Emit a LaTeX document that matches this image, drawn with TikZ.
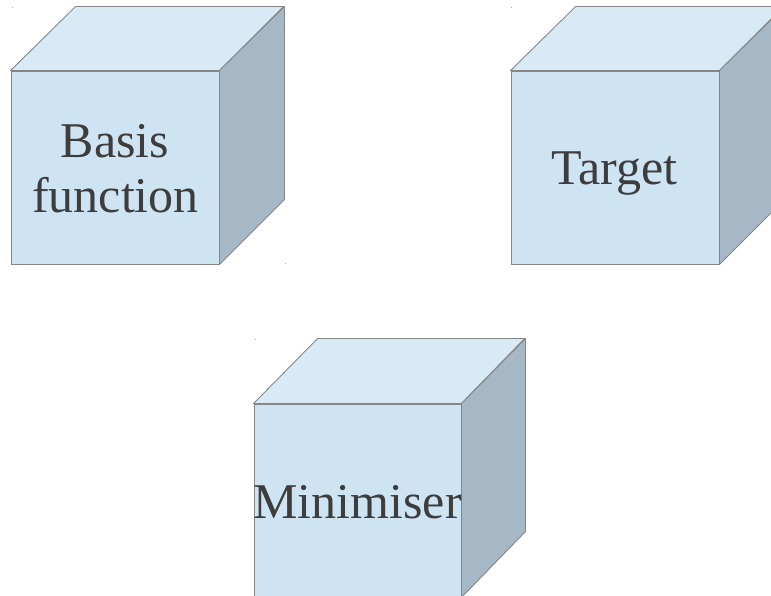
\documentclass[tikz,border=0pt]{standalone}
\usepackage{fontspec}
\setmainfont{Liberation Serif}
\definecolor{cubefront}{HTML}{CFE4F2}
\definecolor{cubetop}{HTML}{D7EAF6}
\definecolor{cubeside}{HTML}{A6B8C5}
\definecolor{cubeedge}{HTML}{868686}
\definecolor{labeltext}{HTML}{3D3D3D}
\begin{document}
\begin{tikzpicture}[x=1pt,y=1pt,
  frontface/.style={draw=cubeedge, fill=cubefront, line width=0.9pt, minimum width=208pt, minimum height=193pt, inner sep=0pt, rectangle},
  topface/.style={draw=cubeedge, fill=cubetop, line width=0.9pt, line join=round},
  sideface/.style={draw=cubeedge, fill=cubeside, line width=0.9pt, line join=round},
  cubelabel/.style={font=\fontsize{50}{55}\selectfont, text=labeltext, anchor=base, inner sep=0pt},
  speck/.style={fill=cubeedge!70, inner sep=0pt, minimum size=1pt, rectangle}]
\useasboundingbox (0,0) rectangle (771,595);
\begin{scope}
\clip (0,0) rectangle (771,595);
% cube 1
\node[frontface] (basis) at (115,427.5) {};
\draw[topface] (basis.north west) -- ++(65,64) -- ++(208,0) -- (basis.north east) -- cycle;
\draw[sideface] (basis.north east) -- ++(65,64) -- ++(0,-193) -- (basis.south east) -- cycle;
\node[cubelabel] (basisA) at (115,437) {Basis};
\node[cubelabel] (basisB) at (115.5,382) {function};
% cube 2
\node[frontface] (target) at (615,427.5) {};
\draw[topface] (target.north west) -- ++(65,64) -- ++(208,0) -- (target.north east) -- cycle;
\draw[sideface] (target.north east) -- ++(65,64) -- ++(0,-193) -- (target.south east) -- cycle;
\node[cubelabel] (targetL) at (614.5,410) {Target};
% cube 3
\node[frontface, minimum width=207pt] (mini) at (357.5,94.5) {};
\draw[topface] (mini.north west) -- ++(64,65) -- ++(207,0) -- (mini.north east) -- cycle;
\draw[sideface] (mini.north east) -- ++(64,65) -- ++(0,-193) -- (mini.south east) -- cycle;
\node[cubelabel] (miniL) at (357.5,77) {Minimiser};
% specks
\node[speck] (s1) at (12,587) {};
\node[speck] (s2) at (285,331) {};
\node[speck] (s3) at (511,587) {};
\node[speck] (s4) at (255,255) {};
\end{scope}
\end{tikzpicture}
\end{document}
